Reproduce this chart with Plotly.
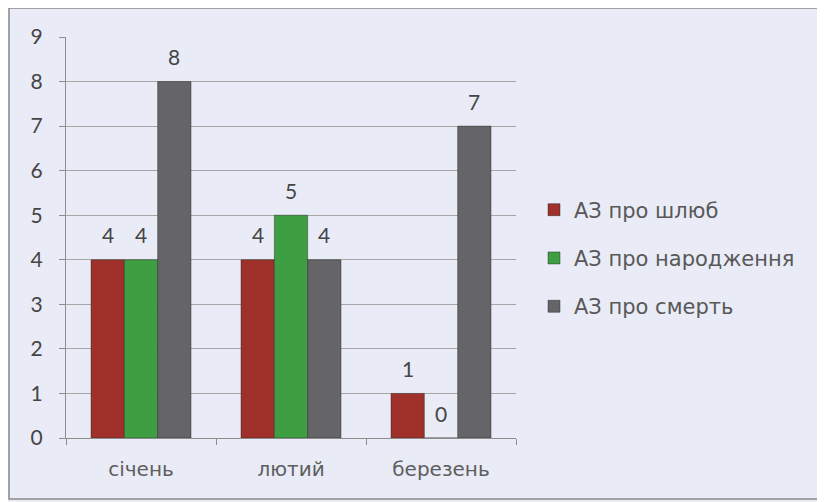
import plotly.graph_objects as go

months = ["січень", "лютий", "березень"]
series_names = ["АЗ про шлюб", "АЗ про народження", "АЗ про смерть"]
marriage = [4, 4, 1]
birth = [4, 5, 0]
death = [8, 4, 7]
y_ticks = [0, 1, 2, 3, 4, 5, 6, 7, 8, 9]

colors = ["#a0302a", "#3d9f42", "#656568"]

# page body has an 8px offset; work in reference pixel coordinates
OFF = 8
W, H = 825 - OFF, 502 - OFF
L, T = 66 - OFF, 37 - OFF
R = 825 - 516
B = 502 - 438
pw, ph = W - L - R, H - T - B

def px_x(p):
    return (p - OFF - L) / pw

def px_y(p):
    return (H - B - (p - OFF)) / ph

fig = go.Figure()
all_series = [marriage, birth, death]
for i, (name, vals) in enumerate(zip(series_names, all_series)):
    fig.add_trace(go.Bar(
        x=months, y=vals, name=name,
        marker=dict(color=colors[i], line=dict(color="rgba(40,40,40,0.45)", width=1)),
        legendgroup=name,
    ))

# value labels above the bars (offset horizontally to each bar of the group)
cat_px = pw / len(months)
bar_px = cat_px * (2 / 3) / len(series_names)
for i, vals in enumerate(all_series):
    for m, v in zip(months, vals):
        fig.add_annotation(x=m, y=v, text=str(v), showarrow=False,
                           xshift=(i - 1) * bar_px, yshift=25, yanchor="middle",
                           font=dict(size=21, color="#454545", family="Lato"))

fig.add_shape(type="rect", xref="paper", yref="paper",
              x0=px_x(9), x1=px_x(822), y0=px_y(499), y1=px_y(8),
              line=dict(color="#8a8a8a", width=1.5), layer="below")

fig.update_layout(
    width=W, height=H,
    margin=dict(l=L, r=R, t=T, b=B),
    paper_bgcolor="#e9ebf6", plot_bgcolor="#e9ebf6",
    barmode="group", bargap=1/3, bargroupgap=0,
    font=dict(family="DejaVu Sans", color="#4a4a4a"),
    showlegend=True,
    legend=dict(x=px_x(534), y=px_y(258), xanchor="left", yanchor="middle",
                font=dict(size=21, color="#585858", family="DejaVu Sans"),
                bgcolor="rgba(0,0,0,0)", traceorder="grouped", tracegroupgap=18,
                itemwidth=30),
    xaxis=dict(showline=True, linecolor="#8c8c8c", linewidth=1,
               ticks="outside", ticklen=6, tickcolor="#8c8c8c",
               tickson="boundaries", ticklabelstandoff=13,
               tickfont=dict(size=20, color="#5e5e5e", family="DejaVu Sans")),
    yaxis=dict(range=[0, 9], tickvals=y_ticks, showline=True, linecolor="#8c8c8c",
               linewidth=1, ticks="outside", ticklen=6, tickcolor="#8c8c8c",
               showgrid=True, gridcolor="#a6a6a6", gridwidth=1, zeroline=False,
               ticklabelstandoff=12,
               tickfont=dict(size=21, color="#454545", family="Lato")),
)

fig.write_html("out.html")
